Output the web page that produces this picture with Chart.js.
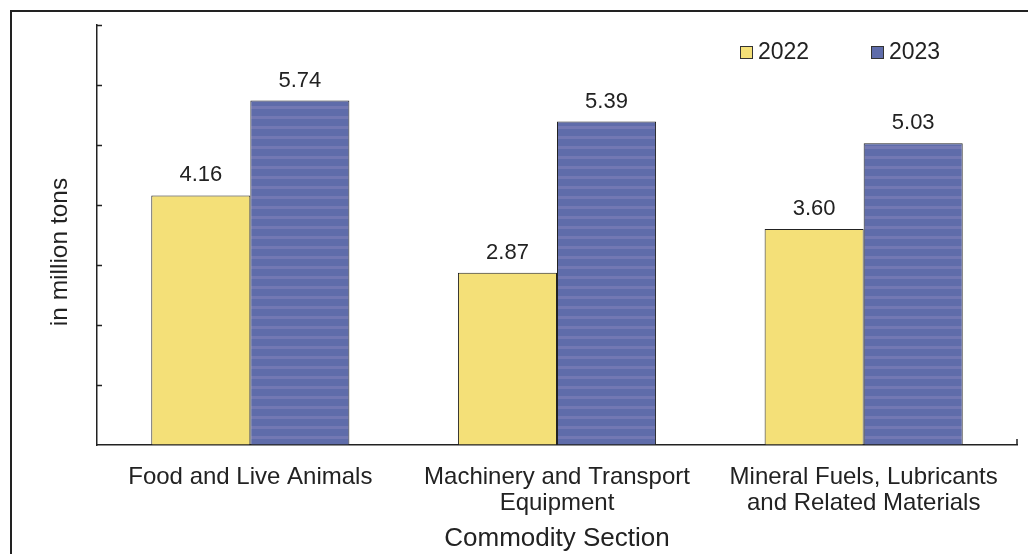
<!DOCTYPE html>
<html>
<head>
<meta charset="utf-8">
<script src="https://cdn.jsdelivr.net/npm/chart.js@4"></script>
<style>
  html, body { margin: 0; padding: 0; background: #fff; }
  #wrap { width: 1028px; height: 554px; position: relative; }
</style>
</head>
<body>
<div id="wrap"><canvas id="chart"></canvas></div>
<script>
// data
const categories = [
    'Food and Live Animals',
    ['Machinery and Transport', 'Equipment'],
    ['Mineral Fuels, Lubricants', 'and Related Materials']
];
const seriesNames = ['2022', '2023'];
const values2022 = [4.16, 2.87, 3.60];
const values2023 = [5.74, 5.39, 5.03];
const yTicks = [1, 2, 3, 4, 5, 6, 7];
const yTitle = 'in million tons';
const xTitle = 'Commodity Section';

const FONT = '"Liberation Sans", Arial, sans-serif';
const TEXT = '#222';

// striped blue fill like the scanned bars
function stripes() {
    const c = document.createElement('canvas');
    c.width = 8; c.height = 10;
    const g = c.getContext('2d');
    g.fillStyle = '#5f6caa';
    g.fillRect(0, 0, 8, 10);
    g.fillStyle = '#7378b3';
    g.fillRect(0, 6, 8, 3);
    return g.createPattern(c, 'repeat');
}

// outer frame, inward ticks, right end tick, legend, y title, value labels
const decor = {
    id: 'decor',
    afterDraw(chart) {
        const ctx = chart.ctx;
        const area = chart.chartArea;
        const y = chart.scales.y;
        ctx.save();
        ctx.strokeStyle = TEXT;
        ctx.lineWidth = 2;
        ctx.strokeRect(11, 11, 1100, 600);
        ctx.lineWidth = 1.5;
        ctx.beginPath();
        yTicks.forEach(v => {
            const py = Math.round(y.getPixelForValue(v)) + 0.5;
            ctx.moveTo(area.left, py);
            ctx.lineTo(area.left + 5, py);
        });
        ctx.moveTo(area.right, area.bottom);
        ctx.lineTo(area.right, area.bottom - 6);
        ctx.stroke();

        // y title, a bit below the middle as in the original
        ctx.fillStyle = TEXT;
        ctx.font = '24.5px ' + FONT;
        ctx.textAlign = 'center';
        ctx.textBaseline = 'middle';
        ctx.translate(60, (area.top + area.bottom) / 2 + 17);
        ctx.rotate(-Math.PI / 2);
        ctx.fillText(yTitle, 0, 0);
        ctx.setTransform(1, 0, 0, 1, 0, 0);

        // legend
        ctx.font = '23px ' + FONT;
        ctx.textAlign = 'left';
        const offs = [277, 146];
        chart.data.datasets.forEach((ds, i) => {
            const bx = area.right - offs[i];
            ctx.fillStyle = ds.legendColor;
            ctx.fillRect(bx, 46, 13, 13);
            ctx.lineWidth = 1;
            ctx.strokeStyle = '#333';
            ctx.strokeRect(bx + 0.5, 46.5, 12, 12);
            ctx.fillStyle = TEXT;
            ctx.fillText(ds.label, bx + 18, 53);
        });
        ctx.restore();
    },
    afterDatasetsDraw(chart) {
        const ctx = chart.ctx;
        ctx.save();
        ctx.font = '22px ' + FONT;
        ctx.fillStyle = TEXT;
        ctx.textAlign = 'center';
        ctx.textBaseline = 'middle';
        chart.data.datasets.forEach((ds, i) => {
            chart.getDatasetMeta(i).data.forEach((bar, j) => {
                ctx.fillText(ds.data[j].toFixed(2), bar.x, bar.y - 20);
            });
        });
        ctx.restore();
    }
};

new Chart(document.getElementById('chart'), {
    type: 'bar',
    data: {
        labels: categories,
        datasets: [{
            label: seriesNames[0],
            data: values2022,
            backgroundColor: '#f4e078',
            legendColor: '#f4e078',
            borderColor: '#222',
            borderWidth: 1
        }, {
            label: seriesNames[1],
            data: values2023,
            backgroundColor: stripes(),
            legendColor: '#5f6caa',
            borderColor: '#222',
            borderWidth: 1
        }]
    },
    options: {
        responsive: true,
        maintainAspectRatio: false,
        animation: false,
        categoryPercentage: 0.646,
        barPercentage: 1.0,
        layout: { padding: { left: 12, right: 11, top: 25, bottom: 0 } },
        plugins: {
            legend: { display: false },
            tooltip: { enabled: false }
        },
        scales: {
            x: {
                afterFit: s => { s.height = 109; },
                grid: { drawOnChartArea: false, drawTicks: false },
                border: { color: TEXT, width: 1.5 },
                ticks: {
                    color: TEXT,
                    padding: 19,
                    maxRotation: 0,
                    font: { family: FONT, size: 24, lineHeight: 1.083 }
                },
                title: {
                    display: true,
                    text: xTitle,
                    color: TEXT,
                    padding: { top: 0, bottom: 0 },
                    font: { family: FONT, size: 26 }
                }
            },
            y: {
                afterFit: s => { s.width = 85; },
                min: 0,
                max: 7,
                grid: { drawOnChartArea: false, drawTicks: false },
                border: { color: TEXT, width: 1.5 },
                ticks: { display: false, stepSize: 1 }
            }
        }
    },
    plugins: [decor]
});
</script>
</body>
</html>
